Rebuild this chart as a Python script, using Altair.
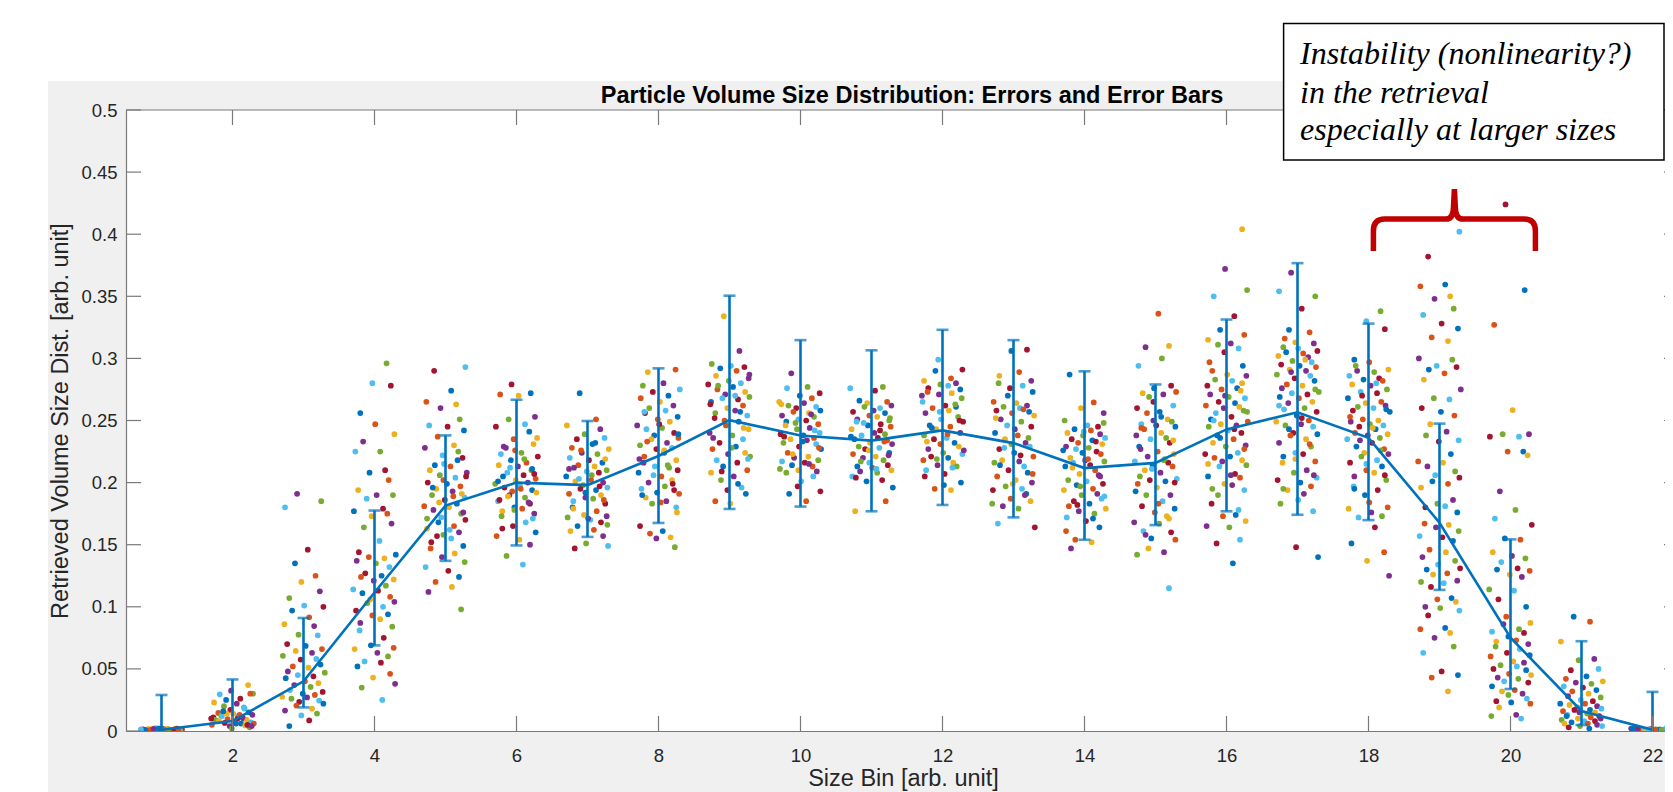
import altair as alt
import pandas as pd

# ---------------- data ----------------
BINS = list(range(1, 23))
LINE_Y = [0.001, 0.008, 0.040, 0.1115, 0.1815, 0.200, 0.198, 0.2214, 0.2503, 0.2379, 0.2338,
          0.242, 0.2318, 0.2117, 0.2159, 0.2428, 0.2566, 0.236, 0.1677, 0.0751, 0.0161, 0.001]
ERR_HI = [0.029, 0.0415, 0.091, 0.1775, 0.238, 0.2667, 0.2496, 0.292, 0.3505, 0.3147, 0.3065,
          0.323, 0.3147, 0.2896, 0.279, 0.3313, 0.3767, 0.328, 0.2475, 0.1543, 0.0723, 0.0315]
ERR_LO = [-0.027, -0.024, 0.019, 0.0689, 0.137, 0.1494, 0.1563, 0.1675, 0.1788, 0.1807, 0.1769,
          0.182, 0.172, 0.154, 0.1658, 0.1769, 0.1741, 0.1698, 0.1136, 0.0338, 0.0048, -0.029]

# retrieved values (jittered dots) per size bin
PTS = {
    1: [0.001, 0.002, 0.0005, 0.0015, 0.001, 0.002, 0.0008, 0.0012, 0.0018, 0.0006, 0.0022, 0.001,
        0.0014, 0.0009, 0.0016, 0.0004, 0.002, 0.0011, 0.0007, 0.0019, 0.0013, 0.0008, 0.0017, 0.001,
        0.0005, 0.0021, 0.0012, 0.0009, 0.0015, 0.0006, 0.0018, 0.001, 0.0013, 0.0007, 0.002, 0.0011],
    2: [0.037, 0.0325, 0.030, 0.0295, 0.026, 0.025, 0.030, 0.023, 0.022, 0.020, 0.018, 0.017, 0.015,
        0.0145, 0.014, 0.013, 0.0125, 0.012, 0.011, 0.010, 0.0095, 0.009, 0.008, 0.0075, 0.007, 0.0065,
        0.006, 0.005, 0.0045, 0.004, 0.003, 0.012, 0.010, 0.008, 0.006, 0.014, 0.011, 0.009, 0.007,
        0.005, 0.016, 0.013, 0.008, 0.004, 0.002, 0.019, 0.010, 0.006],
    3: [0.191, 0.185, 0.18, 0.146, 0.135, 0.125, 0.12, 0.1125, 0.107, 0.101, 0.1, 0.097, 0.0915, 0.086,
        0.0845, 0.0775, 0.077, 0.07, 0.0685, 0.066, 0.0645, 0.063, 0.0605, 0.058, 0.0575, 0.0535, 0.052,
        0.051, 0.048, 0.047, 0.045, 0.044, 0.0425, 0.04, 0.0385, 0.037, 0.0355, 0.033, 0.0315, 0.03,
        0.029, 0.0275, 0.027, 0.026, 0.0245, 0.0235, 0.022, 0.0205, 0.018, 0.0165, 0.014, 0.0125,
        0.0085, 0.004],
    4: [0.296, 0.28, 0.278, 0.256, 0.247, 0.239, 0.233, 0.225, 0.225, 0.21, 0.208, 0.202, 0.194, 0.19,
        0.19, 0.187, 0.179, 0.177, 0.175, 0.173, 0.167, 0.164, 0.153, 0.144, 0.142, 0.14, 0.139, 0.137,
        0.135, 0.132, 0.127, 0.125, 0.124, 0.122, 0.121, 0.117, 0.114, 0.113, 0.111, 0.108, 0.106,
        0.104, 0.103, 0.1, 0.097, 0.094, 0.093, 0.09, 0.087, 0.084, 0.081, 0.075, 0.069, 0.067, 0.066,
        0.063, 0.06, 0.056, 0.055, 0.052, 0.046, 0.043, 0.038, 0.035, 0.025],
    5: [0.293, 0.29, 0.274, 0.265, 0.263, 0.26, 0.251, 0.246, 0.245, 0.242, 0.237, 0.23, 0.228, 0.225,
        0.222, 0.22, 0.214, 0.213, 0.21, 0.208, 0.206, 0.204, 0.2, 0.199, 0.197, 0.195, 0.193, 0.19,
        0.188, 0.186, 0.183, 0.181, 0.18, 0.178, 0.175, 0.172, 0.17, 0.168, 0.165, 0.163, 0.16, 0.158,
        0.155, 0.152, 0.149, 0.147, 0.143, 0.14, 0.136, 0.132, 0.129, 0.124, 0.12, 0.116, 0.112, 0.098,
        0.215, 0.205, 0.196, 0.189, 0.184, 0.176, 0.171, 0.162, 0.157, 0.218, 0.202, 0.191],
    6: [0.279, 0.272, 0.271, 0.27, 0.253, 0.251, 0.247, 0.245, 0.241, 0.235, 0.231, 0.228, 0.224, 0.223,
        0.221, 0.218, 0.216, 0.214, 0.213, 0.21, 0.208, 0.206, 0.205, 0.203, 0.202, 0.2, 0.199, 0.197,
        0.196, 0.194, 0.193, 0.192, 0.19, 0.188, 0.185, 0.183, 0.18, 0.179, 0.177, 0.175, 0.173, 0.168,
        0.165, 0.16, 0.157, 0.154, 0.15, 0.141, 0.134, 0.186, 0.211, 0.226,
        0.236, 0.229, 0.219, 0.212, 0.207, 0.201, 0.195, 0.189, 0.184, 0.178, 0.171, 0.163],
    7: [0.272, 0.251, 0.246, 0.243, 0.239, 0.236, 0.235, 0.231, 0.228, 0.227, 0.224, 0.223, 0.22, 0.218,
        0.216, 0.214, 0.213, 0.212, 0.21, 0.209, 0.208, 0.205, 0.202, 0.201, 0.2, 0.198, 0.196, 0.195,
        0.194, 0.191, 0.19, 0.188, 0.187, 0.185, 0.183, 0.18, 0.177, 0.174, 0.173, 0.172, 0.17, 0.168,
        0.165, 0.162, 0.161, 0.157, 0.151, 0.149, 0.147,
        0.232, 0.226, 0.219, 0.211, 0.206, 0.203, 0.197, 0.192, 0.186, 0.179, 0.171, 0.166],
    8: [0.291, 0.289, 0.28, 0.278, 0.275, 0.273, 0.27, 0.268, 0.265, 0.262, 0.26, 0.258, 0.256, 0.253,
        0.251, 0.249, 0.246, 0.244, 0.243, 0.24, 0.238, 0.236, 0.235, 0.232, 0.23, 0.228, 0.227, 0.224,
        0.221, 0.218, 0.216, 0.214, 0.213, 0.21, 0.208, 0.205, 0.202, 0.2, 0.197, 0.195, 0.194, 0.192,
        0.191, 0.188, 0.185, 0.183, 0.18, 0.165, 0.161, 0.159, 0.156, 0.155, 0.148,
        0.257, 0.247, 0.239, 0.233, 0.226, 0.219, 0.212, 0.206, 0.199, 0.19, 0.184, 0.176],
    9: [0.334, 0.306, 0.2955, 0.294, 0.293, 0.292, 0.29, 0.286, 0.284, 0.282, 0.28, 0.279, 0.277, 0.275,
        0.273, 0.271, 0.269, 0.268, 0.267, 0.265, 0.262, 0.26, 0.258, 0.256, 0.254, 0.252, 0.249, 0.246,
        0.243, 0.24, 0.238, 0.235, 0.232, 0.229, 0.227, 0.224, 0.223, 0.221, 0.218, 0.216, 0.213, 0.21,
        0.208, 0.205, 0.202, 0.196, 0.194, 0.191, 0.185, 0.183,
        0.287, 0.278, 0.27, 0.263, 0.257, 0.25, 0.244, 0.236, 0.228, 0.219, 0.209, 0.199],
    10: [0.288, 0.277, 0.276, 0.272, 0.27, 0.268, 0.265, 0.264, 0.262, 0.261, 0.26, 0.258, 0.257, 0.256,
         0.254, 0.253, 0.251, 0.25, 0.249, 0.247, 0.246, 0.244, 0.243, 0.24, 0.239, 0.238, 0.236, 0.235,
         0.234, 0.232, 0.231, 0.229, 0.227, 0.224, 0.221, 0.22, 0.218, 0.217, 0.216, 0.214, 0.213, 0.21,
         0.209, 0.208, 0.201, 0.193, 0.191, 0.185,
         0.263, 0.255, 0.248, 0.242, 0.237, 0.233, 0.228, 0.223, 0.215, 0.211, 0.205, 0.197],
    11: [0.277, 0.276, 0.274, 0.266, 0.265, 0.264, 0.262, 0.261, 0.26, 0.257, 0.256, 0.254, 0.253, 0.251,
         0.25, 0.249, 0.247, 0.246, 0.245, 0.243, 0.24, 0.239, 0.238, 0.236, 0.235, 0.234, 0.232, 0.231,
         0.229, 0.228, 0.227, 0.224, 0.223, 0.221, 0.22, 0.218, 0.216, 0.214, 0.213, 0.212, 0.21, 0.209,
         0.208, 0.205, 0.202, 0.201, 0.185, 0.177,
         0.258, 0.252, 0.248, 0.242, 0.237, 0.233, 0.226, 0.222, 0.217, 0.211, 0.204, 0.196],
    12: [0.299, 0.291, 0.29, 0.284, 0.282, 0.28, 0.279, 0.278, 0.276, 0.275, 0.273, 0.272, 0.271, 0.268,
         0.265, 0.262, 0.261, 0.26, 0.258, 0.256, 0.253, 0.251, 0.249, 0.246, 0.245, 0.243, 0.24, 0.238,
         0.236, 0.235, 0.232, 0.231, 0.229, 0.227, 0.224, 0.223, 0.221, 0.22, 0.218, 0.216, 0.214, 0.213,
         0.21, 0.207, 0.2, 0.195, 0.194,
         0.27, 0.263, 0.257, 0.25, 0.244, 0.239, 0.233, 0.226, 0.219, 0.212, 0.205, 0.198],
    13: [0.307, 0.306, 0.289, 0.286, 0.282, 0.28, 0.278, 0.276, 0.273, 0.265, 0.264, 0.262, 0.261, 0.26,
         0.258, 0.257, 0.256, 0.254, 0.251, 0.249, 0.246, 0.245, 0.24, 0.238, 0.235, 0.232, 0.231, 0.229,
         0.227, 0.224, 0.221, 0.218, 0.217, 0.216, 0.213, 0.21, 0.208, 0.205, 0.202, 0.2, 0.197, 0.195,
         0.194, 0.191, 0.187, 0.185, 0.181, 0.179, 0.167, 0.164,
         0.27, 0.259, 0.252, 0.243, 0.236, 0.228, 0.222, 0.214, 0.207, 0.199, 0.19, 0.183],
    14: [0.287, 0.2645, 0.26, 0.256, 0.25, 0.246, 0.245, 0.243, 0.242, 0.24, 0.239, 0.238, 0.236, 0.235,
         0.234, 0.232, 0.231, 0.229, 0.228, 0.227, 0.225, 0.224, 0.223, 0.22, 0.218, 0.217, 0.216, 0.214,
         0.213, 0.21, 0.207, 0.206, 0.202, 0.201, 0.199, 0.198, 0.195, 0.194, 0.191, 0.19, 0.187, 0.185,
         0.183, 0.181, 0.179, 0.177, 0.175, 0.172, 0.169, 0.164, 0.154, 0.152, 0.147,
         0.248, 0.241, 0.233, 0.226, 0.219, 0.212, 0.205, 0.197, 0.189, 0.182, 0.171, 0.161],
    15: [0.336, 0.31, 0.309, 0.3, 0.294, 0.278, 0.276, 0.273, 0.272, 0.271, 0.269, 0.262, 0.26, 0.257,
         0.256, 0.251, 0.25, 0.249, 0.247, 0.246, 0.245, 0.243, 0.24, 0.238, 0.236, 0.235, 0.232, 0.229,
         0.225, 0.223, 0.221, 0.218, 0.217, 0.216, 0.214, 0.213, 0.21, 0.208, 0.205, 0.203, 0.202, 0.201,
         0.199, 0.196, 0.19, 0.19, 0.185, 0.181, 0.179, 0.176, 0.173, 0.168, 0.167, 0.161, 0.16, 0.155,
         0.154, 0.147, 0.144, 0.142, 0.115,
         0.265, 0.253, 0.244, 0.234, 0.227, 0.219, 0.211, 0.2, 0.193, 0.183, 0.171, 0.158],
    16: [0.404, 0.372, 0.355, 0.35, 0.334, 0.323, 0.319, 0.315, 0.312, 0.311, 0.308, 0.305, 0.294, 0.29,
         0.287, 0.286, 0.283, 0.282, 0.278, 0.276, 0.275, 0.274, 0.271, 0.269, 0.268, 0.265, 0.264, 0.262,
         0.261, 0.26, 0.258, 0.256, 0.253, 0.251, 0.249, 0.247, 0.246, 0.245, 0.242, 0.24, 0.238, 0.235,
         0.232, 0.23, 0.229, 0.224, 0.223, 0.221, 0.22, 0.218, 0.217, 0.214, 0.213, 0.207, 0.205, 0.204,
         0.199, 0.198, 0.195, 0.194, 0.183, 0.174, 0.173, 0.169, 0.165, 0.164, 0.154, 0.151, 0.135,
         0.297, 0.28, 0.27, 0.257, 0.25, 0.243, 0.236, 0.227, 0.215, 0.206, 0.19, 0.178],
    17: [0.369, 0.35, 0.354, 0.34, 0.323, 0.321, 0.313, 0.312, 0.309, 0.308, 0.306, 0.305, 0.304, 0.302,
         0.301, 0.298, 0.297, 0.295, 0.294, 0.293, 0.291, 0.29, 0.287, 0.286, 0.284, 0.282, 0.279, 0.278,
         0.276, 0.273, 0.272, 0.271, 0.269, 0.268, 0.265, 0.264, 0.26, 0.259, 0.257, 0.254, 0.25, 0.249,
         0.247, 0.246, 0.245, 0.24, 0.239, 0.238, 0.235, 0.232, 0.229, 0.224, 0.223, 0.221, 0.217, 0.216,
         0.21, 0.208, 0.204, 0.202, 0.2, 0.197, 0.194, 0.191, 0.183, 0.177, 0.148, 0.14,
         0.316, 0.299, 0.289, 0.275, 0.262, 0.252, 0.243, 0.231, 0.219, 0.206, 0.195, 0.186],
    18: [0.338, 0.33, 0.3235, 0.299, 0.297, 0.291, 0.29, 0.289, 0.286, 0.284, 0.283, 0.282, 0.279, 0.278,
         0.275, 0.273, 0.272, 0.268, 0.265, 0.264, 0.262, 0.261, 0.26, 0.258, 0.257, 0.251, 0.25, 0.249,
         0.247, 0.246, 0.245, 0.243, 0.24, 0.239, 0.238, 0.236, 0.235, 0.232, 0.229, 0.227, 0.224, 0.223,
         0.221, 0.218, 0.216, 0.213, 0.21, 0.208, 0.205, 0.202, 0.197, 0.194, 0.19, 0.18, 0.179, 0.176,
         0.173, 0.172, 0.164, 0.151, 0.144, 0.137, 0.125,
         0.294, 0.28, 0.27, 0.259, 0.253, 0.244, 0.234, 0.226, 0.215, 0.206, 0.195, 0.184],
    19: [0.402, 0.382, 0.3595, 0.358, 0.35, 0.348, 0.34, 0.335, 0.328, 0.324, 0.317, 0.314, 0.3, 0.299,
         0.294, 0.293, 0.291, 0.288, 0.283, 0.275, 0.268, 0.267, 0.26, 0.257, 0.254, 0.247, 0.241, 0.238,
         0.234, 0.233, 0.223, 0.217, 0.216, 0.213, 0.209, 0.206, 0.204, 0.201, 0.199, 0.196, 0.186, 0.183,
         0.181, 0.18, 0.176, 0.167, 0.166, 0.164, 0.161, 0.157, 0.156, 0.153, 0.146, 0.144, 0.14, 0.137,
         0.134, 0.131, 0.13, 0.127, 0.126, 0.121, 0.12, 0.119, 0.116, 0.107, 0.106, 0.104, 0.1, 0.099,
         0.097, 0.093, 0.083, 0.082, 0.079, 0.075, 0.068, 0.063, 0.048, 0.045, 0.043, 0.032],
    20: [0.424, 0.355, 0.327, 0.2584, 0.239, 0.239, 0.237, 0.237, 0.225, 0.225, 0.222, 0.193, 0.178, 0.171,
         0.166, 0.155, 0.154, 0.144, 0.141, 0.139, 0.136, 0.131, 0.13, 0.129, 0.126, 0.124, 0.114, 0.113,
         0.106, 0.1, 0.092, 0.087, 0.086, 0.082, 0.08, 0.079, 0.076, 0.073, 0.072, 0.07, 0.068, 0.066,
         0.063, 0.061, 0.06, 0.056, 0.055, 0.053, 0.052, 0.05, 0.049, 0.046, 0.045, 0.043, 0.042, 0.04,
         0.039, 0.036, 0.033, 0.032, 0.03, 0.029, 0.026, 0.024, 0.023, 0.022, 0.019, 0.013, 0.012, 0.01],
    21: [0.092, 0.088, 0.072, 0.058, 0.057, 0.05, 0.049, 0.044, 0.042, 0.04, 0.039, 0.038, 0.036, 0.035,
         0.033, 0.032, 0.03, 0.028, 0.027, 0.025, 0.024, 0.022, 0.022, 0.021, 0.02, 0.019, 0.018, 0.017,
         0.017, 0.016, 0.015, 0.015, 0.014, 0.013, 0.012, 0.012, 0.011, 0.01, 0.01, 0.009, 0.008, 0.008,
         0.007, 0.006, 0.006, 0.005, 0.004, 0.004, 0.003, 0.002],
    22: [0.001, 0.0015, 0.0005, 0.002, 0.001, 0.0012, 0.0008, 0.0018, 0.001, 0.0022, 0.0006, 0.0014,
         0.0009, 0.0016, 0.0011, 0.0004, 0.002, 0.0013, 0.0007, 0.0019, 0.001, 0.0017, 0.0008, 0.0012,
         0.0005, 0.0021, 0.0015, 0.0009, 0.0011, 0.0006, 0.0018, 0.001, 0.0013, 0.0007, 0.002, 0.0012],
}

# horizontal jitter offsets (bin units) of the dots
JITTER = [-0.21, 0.13, -0.05, 0.27, -0.28, 0.04, 0.19, -0.14, 0.09, -0.24, 0.22, -0.02, 0.29, -0.18,
          0.11, -0.09, 0.25, -0.26, 0.06, -0.12, 0.17, -0.03, 0.23, -0.2, 0.01, 0.28, -0.16, 0.08,
          -0.27, 0.15, -0.07, 0.2, -0.23, 0.03, 0.26, -0.11, 0.12, -0.29, 0.18, -0.04, 0.24, -0.15,
          0.07, -0.22, 0.3, -0.08, 0.14, -0.25, 0.02, 0.21, -0.13, 0.1, -0.19, 0.27, -0.01, 0.16, -0.3,
          0.05, -0.17, 0.22, -0.06, 0.28, -0.1, 0.12, -0.26, 0.19, -0.03, 0.08, -0.2, 0.25]

MATLAB_COLORS = ["#0072BD", "#D95319", "#EDB120", "#7E2F8E", "#77AC30", "#4DBEEE", "#A2142F"]

X_TICKS = [2, 4, 6, 8, 10, 12, 14, 16, 18, 20, 22]
Y_TICKS = [0, 0.05, 0.1, 0.15, 0.2, 0.25, 0.3, 0.35, 0.4, 0.45, 0.5]

TITLE = "Particle Volume Size Distribution: Errors and Error Bars"
X_TITLE = "Size Bin [arb. unit]"
Y_TITLE = "Retrieved Volume Size Dist. [arb. unit]"
NOTE_LINES = ["Instability (nonlinearity?)", "in the retrieval", "especially at larger sizes"]
BRACE_AT = {"x": 19.21, "y": 0.4114}

# ---------------- layout ----------------
W, H = 1539, 621
PX_PER_BIN = 71.0
X_DOMAIN = [0.5, 0.5 + W / PX_PER_BIN]
Y_DOMAIN = [0, 0.5]
FONT = "Liberation Sans"
INK = "#262626"
AXIS_GRAY = "#7a7a7a"

rows = []
for b in BINS:
    for j, v in enumerate(PTS[b]):
        rows.append({"x": b + JITTER[(j + 5 * b) % len(JITTER)], "y": v, "c": (j + b) % 7})
pts_df = pd.DataFrame(rows)
main_df = pd.DataFrame({"bin": BINS, "mean": LINE_Y, "hi": ERR_HI, "lo": ERR_LO})
xt_df = pd.DataFrame({"t": X_TICKS})
yt_df = pd.DataFrame({"t": Y_TICKS})
one = pd.DataFrame({"a": [0]})

xs = alt.Scale(domain=X_DOMAIN, nice=False, zero=False)
ys = alt.Scale(domain=Y_DOMAIN, nice=False, zero=False)

x_axis = alt.Axis(values=X_TICKS, format="d", tickSize=0, labelPadding=15, labelFontSize=18.5,
                  labelFont=FONT, labelColor=INK, domainColor=AXIS_GRAY, domainWidth=1.2, grid=False,
                  title=X_TITLE, titleFont=FONT, titleFontSize=23.5, titleFontWeight="normal",
                  titleColor=INK, titleX=777, titleY=54, titleBaseline="alphabetic",
                  labelFlush=False, zindex=1)
y_axis = alt.Axis(values=Y_TICKS, format=".2~f", tickSize=0, labelPadding=9, labelFontSize=18.5,
                  labelFont=FONT, labelColor=INK, domainColor=AXIS_GRAY, domainWidth=1.2, grid=False,
                  title=Y_TITLE, titleFont=FONT, titleFontSize=23.5, titleFontWeight="normal",
                  titleColor=INK, titleX=-66, titleY=310.5, titleBaseline="middle", titleAngle=-90,
                  labelFlush=False, zindex=1)

bg = alt.Chart(one).mark_rect(color="#f0f0f0").encode(
    x=alt.value(-78), x2=alt.value(W), y=alt.value(-29), y2=alt.value(H + 80))
plot_bg = alt.Chart(one).mark_rect(color="white").encode(
    x=alt.value(0), x2=alt.value(W), y=alt.value(0), y2=alt.value(H))

dots = alt.Chart(pts_df).mark_circle(size=33, opacity=1, clip=True).encode(
    x=alt.X("x:Q", scale=xs, axis=x_axis),
    y=alt.Y("y:Q", scale=ys, axis=y_axis),
    color=alt.Color("c:N", scale=alt.Scale(domain=list(range(7)), range=MATLAB_COLORS), legend=None),
)

ebar = alt.Chart(main_df).mark_rule(color="#0072BD", strokeWidth=2.6, clip=True).encode(
    x=alt.X("bin:Q", scale=xs), y=alt.Y("lo:Q", scale=ys), y2="hi:Q")
cap_hi = alt.Chart(main_df).mark_tick(color="#0072BD", orient="horizontal", size=12, thickness=2.6,
                                       clip=True).encode(x=alt.X("bin:Q", scale=xs), y=alt.Y("hi:Q", scale=ys))
cap_lo = alt.Chart(main_df).mark_tick(color="#0072BD", orient="horizontal", size=12, thickness=2.6,
                                       clip=True).encode(x=alt.X("bin:Q", scale=xs), y=alt.Y("lo:Q", scale=ys))
line = alt.Chart(main_df).mark_line(color="#0072BD", strokeWidth=2.6, clip=True).encode(
    x=alt.X("bin:Q", scale=xs), y=alt.Y("mean:Q", scale=ys))

ytick_l = alt.Chart(yt_df).mark_rule(color=AXIS_GRAY, strokeWidth=1.2).encode(
    y=alt.Y("t:Q", scale=ys), x=alt.value(0), x2=alt.value(15))
ytick_r = alt.Chart(yt_df).mark_rule(color=AXIS_GRAY, strokeWidth=1.2).encode(
    y=alt.Y("t:Q", scale=ys), x=alt.value(W - 1), x2=alt.value(W))
xtick_b = alt.Chart(xt_df).mark_rule(color=AXIS_GRAY, strokeWidth=1.2).encode(
    x=alt.X("t:Q", scale=xs), y=alt.value(H), y2=alt.value(H - 15))
xtick_t = alt.Chart(xt_df).mark_rule(color=AXIS_GRAY, strokeWidth=1.2).encode(
    x=alt.X("t:Q", scale=xs), y=alt.value(0), y2=alt.value(15))
top_line = alt.Chart(one).mark_rule(color=AXIS_GRAY, strokeWidth=1.2).encode(
    x=alt.value(0), x2=alt.value(W), y=alt.value(0))

title = alt.Chart(one).mark_text(text=TITLE, font=FONT, fontSize=23.5, fontWeight="bold", color="black",
                                 align="center", baseline="alphabetic").encode(
    x=alt.value(786), y=alt.value(-7))

note_box = alt.Chart(one).mark_rect(fill="white", stroke="black", strokeWidth=1.5).encode(
    x=alt.value(1157.6), x2=alt.value(W - 1), y=alt.value(-86.5), y2=alt.value(50))
note_df = pd.DataFrame({"txt": NOTE_LINES, "yy": [-46, -7.5, 30]})
note_txt = alt.Chart(note_df).mark_text(font="Liberation Serif", fontStyle="italic", fontSize=32,
                                        color="black", align="left", baseline="alphabetic").encode(
    x=alt.value(1174), y=alt.Y("yy:Q", scale=None), text="txt:N")

BRACE_PATH = ("M -1 0.383 L -1 0.136 Q -1 -0.012 -0.86 -0.012 L -0.105 -0.012 "
              "Q -0.015 -0.012 -0.012 -0.15 L 0 -0.383 L 0.012 -0.15 Q 0.015 -0.012 0.105 -0.012 "
              "L 0.86 -0.012 Q 1 -0.012 1 0.136 L 1 0.383")
brace = alt.Chart(pd.DataFrame([BRACE_AT])).mark_point(
    shape=BRACE_PATH, size=162 * 162, filled=False, stroke="#C00000", strokeWidth=5.5, opacity=1
).encode(x=alt.X("x:Q", scale=xs), y=alt.Y("y:Q", scale=ys))

chart = alt.layer(
    bg, plot_bg, dots, ebar, cap_hi, cap_lo, line, ytick_l, ytick_r, xtick_b, xtick_t, top_line,
    title, note_box, note_txt, brace
).properties(
    width=W, height=H,
    padding={"left": 118, "top": 102, "right": 0, "bottom": 61},
    autosize=alt.AutoSizeParams(type="none"),
    background="white",
).configure_view(strokeWidth=0)

chart.save("out.html", embed_options={"renderer": "svg", "actions": False})
